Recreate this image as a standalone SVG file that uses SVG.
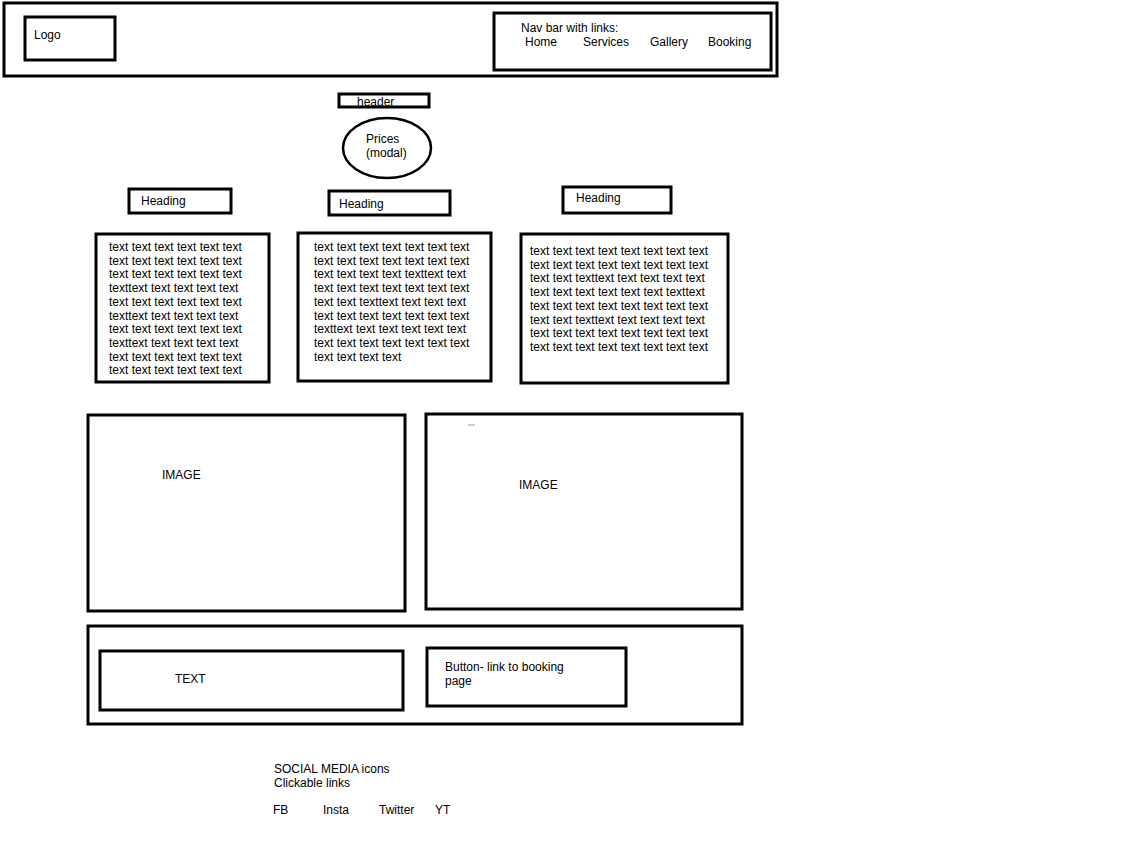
<svg xmlns="http://www.w3.org/2000/svg" width="1134" height="851" viewBox="0 0 1134 851">
<style>
.b{fill:#fff;stroke:#000;stroke-width:3}
.t{font-family:"Liberation Sans",Arial,sans-serif;font-size:12px;fill:#000}
</style>
<rect width="1134" height="851" fill="#fff"/>
<g id="header-bar"><rect class="b" x="4" y="3" width="773" height="73"/></g>
<g id="logo"><rect class="b" x="25" y="17" width="90" height="43"/><text class="t" x="34" y="39">Logo</text></g>
<g id="nav"><rect class="b" x="494" y="13" width="277" height="57"/>
<text class="t" x="521" y="32">Nav bar with links:</text>
<text class="t" x="525" y="46">Home</text><text class="t" x="583" y="46">Services</text><text class="t" x="650" y="46">Gallery</text><text class="t" x="708" y="46">Booking</text></g>
<g id="header-label"><rect class="b" x="339" y="94" width="90" height="13"/><text class="t" x="357" y="106">header</text></g>
<g id="prices"><ellipse cx="387" cy="148" rx="44" ry="30" fill="#fff" stroke="#000" stroke-width="2.5"/><text class="t" x="366" y="143">Prices</text><text class="t" x="366" y="157">(modal)</text></g>
<g id="heading1"><rect class="b" x="129" y="189" width="102" height="24"/><text class="t" x="141" y="205">Heading</text></g>
<g id="heading2"><rect class="b" x="329" y="191" width="121" height="24"/><text class="t" x="339" y="208">Heading</text></g>
<g id="heading3"><rect class="b" x="563" y="187" width="108" height="26"/><text class="t" x="576" y="202">Heading</text></g>
<g id="text1"><rect class="b" x="96" y="234" width="173" height="148"/>
<text class="t" x="109" y="251">text text text text text text</text>
<text class="t" x="109" y="264.7">text text text text text text</text>
<text class="t" x="109" y="278.4">text text text text text text</text>
<text class="t" x="109" y="292.1">texttext text text text text</text>
<text class="t" x="109" y="305.8">text text text text text text</text>
<text class="t" x="109" y="319.5">texttext text text text text</text>
<text class="t" x="109" y="333.2">text text text text text text</text>
<text class="t" x="109" y="346.9">texttext text text text text</text>
<text class="t" x="109" y="360.6">text text text text text text</text>
<text class="t" x="109" y="374.3">text text text text text text</text>
</g>
<g id="text2"><rect class="b" x="298" y="233" width="193" height="148"/>
<text class="t" x="314" y="251">text text text text text text text</text>
<text class="t" x="314" y="264.7">text text text text text text text</text>
<text class="t" x="314" y="278.4">text text text text texttext text</text>
<text class="t" x="314" y="292.1">text text text text text text text</text>
<text class="t" x="314" y="305.8">text text texttext text text text</text>
<text class="t" x="314" y="319.5">text text text text text text text</text>
<text class="t" x="314" y="333.2">texttext text text text text text</text>
<text class="t" x="314" y="346.9">text text text text text text text</text>
<text class="t" x="314" y="360.6">text text text text</text>
</g>
<g id="text3"><rect class="b" x="521" y="234" width="207" height="149"/>
<text class="t" x="530" y="255">text text text text text text text text</text>
<text class="t" x="530" y="268.7">text text text text text text text text</text>
<text class="t" x="530" y="282.4">text text texttext text text text text</text>
<text class="t" x="530" y="296.1">text text text text text text texttext</text>
<text class="t" x="530" y="309.8">text text text text text text text text</text>
<text class="t" x="530" y="323.5">text text texttext text text text text</text>
<text class="t" x="530" y="337.2">text text text text text text text text</text>
<text class="t" x="530" y="350.9">text text text text text text text text</text>
</g>
<g id="image1"><rect class="b" x="88" y="415" width="317" height="196"/><text class="t" x="162" y="479">IMAGE</text></g>
<g id="image2"><rect class="b" x="426" y="414" width="316" height="195"/><text class="t" x="519" y="489">IMAGE</text></g>
<line x1="468" y1="425" x2="475" y2="425" stroke="#b58ab5" stroke-width="1"/>
<g id="cta"><rect class="b" x="88" y="626" width="654" height="98"/></g>
<g id="cta-text"><rect class="b" x="100" y="651" width="303" height="59"/><text class="t" x="175" y="683">TEXT</text></g>
<g id="cta-button"><rect class="b" x="427" y="648" width="199" height="58"/><text class="t" x="445" y="671">Button- link to booking</text><text class="t" x="445" y="685">page</text></g>
<g id="social">
<text class="t" x="274" y="773">SOCIAL MEDIA icons</text>
<text class="t" x="274" y="787">Clickable links</text>
<text class="t" x="273" y="814">FB</text><text class="t" x="323" y="814">Insta</text><text class="t" x="379" y="814">Twitter</text><text class="t" x="435" y="814">YT</text>
</g>
<g id="connectors"></g>
</svg>
